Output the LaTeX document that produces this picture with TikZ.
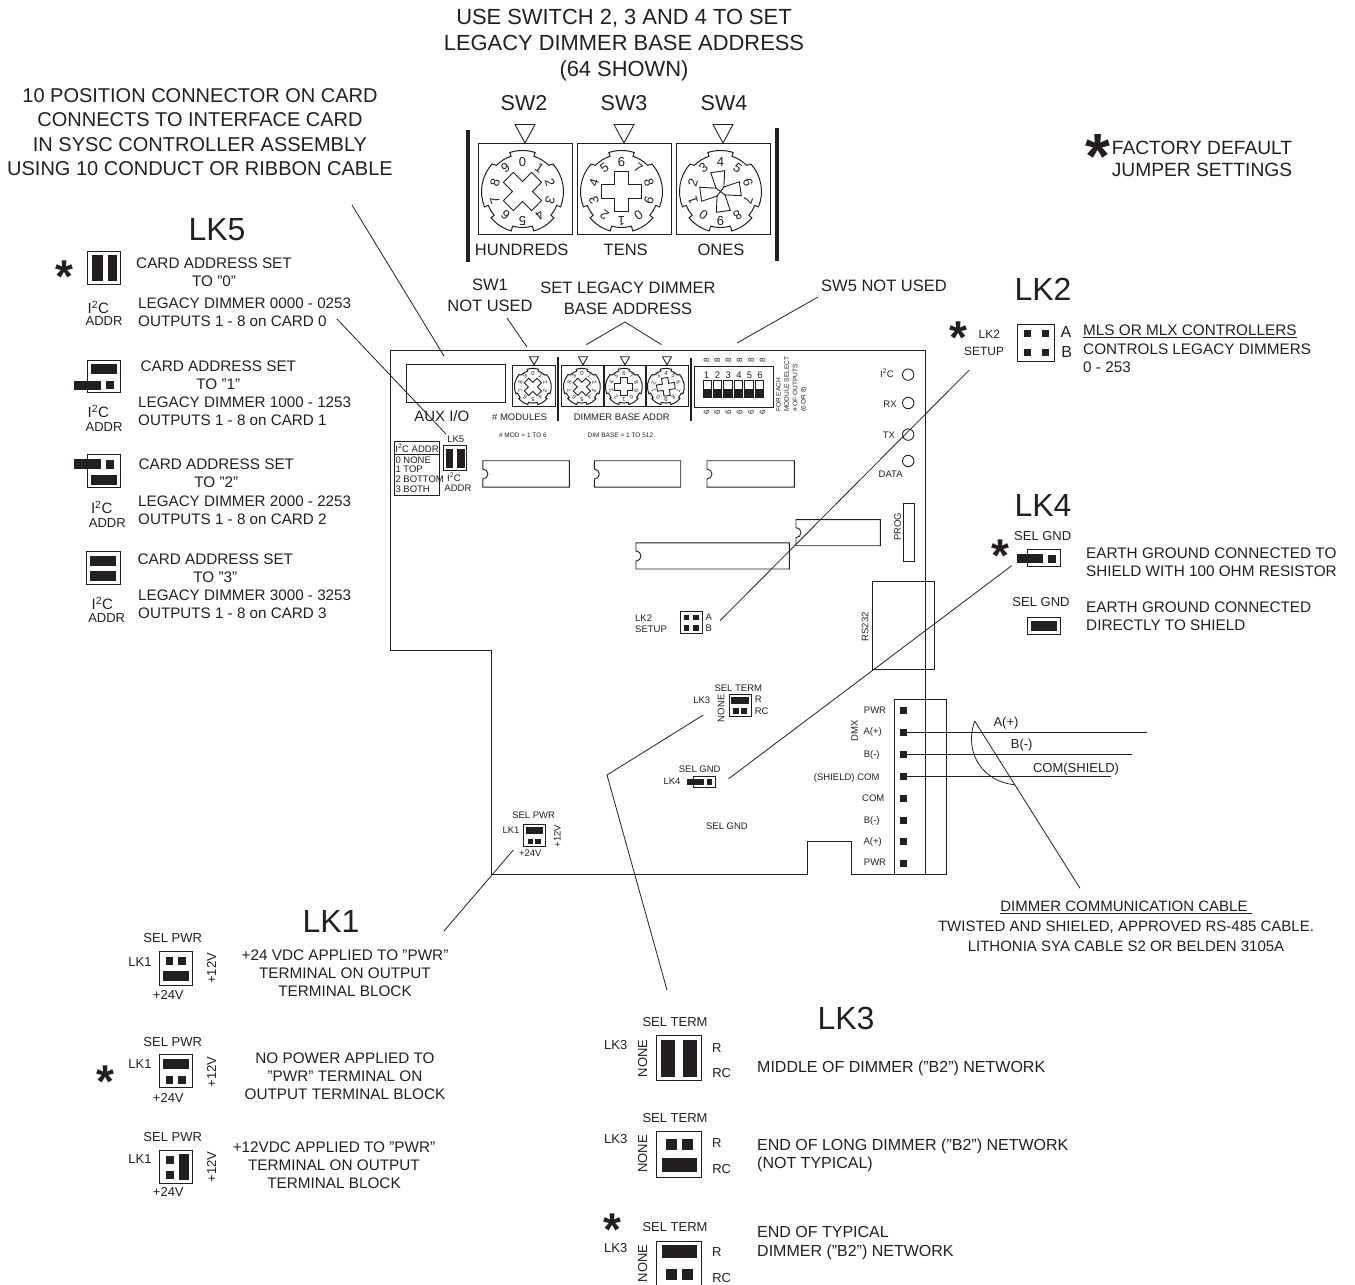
\documentclass[tikz,border=0pt]{standalone}
\usepackage{fontspec}
\setmainfont{Liberation Sans}
\definecolor{ink}{HTML}{231F20}

\begin{document}
\begin{tikzpicture}[x=1pt,y=-1pt,color=ink]
\tikzset{
biglabel/.style={inner sep=0pt, font=\fontsize{32}{32}\selectfont},
swlabel/.style={inner sep=0pt, font=\fontsize{21.5}{22}\selectfont},
headlabel/.style={inner sep=0pt, align=center, font=\fontsize{21.9}{26}\selectfont},
connlabel/.style={inner sep=0pt, align=center, font=\fontsize{20}{24.4}\selectfont},
unitlabel/.style={inner sep=0pt, font=\fontsize{16.5}{17}\selectfont},
toplabel/.style={inner sep=0pt, align=center, font=\fontsize{16.5}{21}\selectfont},
midlabel/.style={inner sep=0pt, align=center, font=\fontsize{15.3}{17.7}\selectfont},
midleft/.style={inner sep=0pt, align=left, anchor=west, font=\fontsize{15.2}{18.2}\selectfont},
textlabel/.style={inner sep=0pt, align=center, font=\fontsize{15.3}{18}\selectfont},
textleft/.style={inner sep=0pt, align=left, anchor=west, font=\fontsize{15.3}{18.4}\selectfont},
termleft/.style={inner sep=0pt, align=left, anchor=west, font=\fontsize{16}{18.6}\selectfont},
keylabel/.style={inner sep=0pt, font=\fontsize{13}{13}\selectfont},
iclabel/.style={inner sep=0pt, font=\fontsize{15}{15}\selectfont},
smalllabel/.style={inner sep=0pt, font=\fontsize{9.5}{11}\selectfont},
tinylabel/.style={inner sep=0pt, align=left, font=\fontsize{6.5}{8.4}\selectfont},
dimlabel/.style={inner sep=0pt, font=\fontsize{8}{8}\selectfont},
stardefault/.style={inner sep=0pt, anchor=base, font=\fontsize{46}{46}\selectfont\bfseries},
digit/.style={inner sep=0pt, transform shape, font=\fontsize{13}{13}\selectfont},
jbox/.style={draw, line width=.9pt},
jbar/.style={fill=ink},
thinline/.style={draw, line width=.8pt},
pad/.style={fill=ink, minimum size=7pt, inner sep=0pt},
pics/rotary/.style args={#1/#2/#3}{code={
  \draw[jbox] (-47pt,-45.5pt) rectangle (47pt,45.5pt);
  \draw[jbox] (-10pt,64pt) -- (10pt,64pt) -- (0pt,45.5pt) -- cycle;
  \begin{scope}[shift={(-2.5pt,-3pt)}]
    \draw[line width=1pt] (108:41pt) arc[start angle=108,end angle=72,radius=41pt] -- (72:37pt)
      arc[start angle=72,end angle=45,radius=37pt] -- (42:41pt)
      arc[start angle=42,end angle=-22,radius=41pt] -- (-22:37pt)
      arc[start angle=-22,end angle=-40,radius=37pt] -- (-40:41pt)
      arc[start angle=-40,end angle=-74,radius=41pt] -- (-74:36pt)
      arc[start angle=-74,end angle=-106,radius=36pt] -- (-106:41pt)
      arc[start angle=-106,end angle=-140,radius=41pt] -- (-140:37pt)
      arc[start angle=-140,end angle=-158,radius=37pt] -- (-158:41pt)
      arc[start angle=-158,end angle=-222,radius=41pt] -- (135:37pt)
      arc[start angle=135,end angle=108,radius=37pt] -- cycle;
    \foreach \k in {0,...,9} {
      \pgfmathtruncatemacro\d{mod(#1+\k,10)}
      \node[digit, rotate=-36*\k] (d\k) at (90-36*\k:29pt) {\d};
    }
    \begin{scope}[rotate=#2]
      \draw[jbox, fill=white] (7pt,20pt) -- (-7pt,20pt) -- (-#3pt,#3pt) -- (-20pt,7pt) -- (-20pt,-7pt)
        -- (-#3pt,-#3pt) -- (-7pt,-20pt) -- (7pt,-20pt) -- (#3pt,-#3pt) -- (20pt,-7pt) -- (20pt,7pt)
        -- (#3pt,#3pt) -- cycle;
      \ifdim#3pt<5pt
        \draw[jbox] (-#3pt,#3pt) -- (#3pt,-#3pt) (#3pt,#3pt) -- (-#3pt,-#3pt);
      \fi
    \end{scope}
  \end{scope}
}},
pics/dipsw/.style={code={
  \draw[jbox, line width=.6pt] (-4.2pt,-8.5pt) rectangle (4.2pt,8.5pt);
  \fill[jbar] (-4.2pt,0pt) rectangle (4.2pt,-8.5pt);
}},
}
\useasboundingbox (0,0) rectangle (1355,1285);

% texts at the top
\node[headlabel] (title) at (624,45) {USE SWITCH 2, 3 AND 4 TO SET\\LEGACY DIMMER BASE ADDRESS\\(64 SHOWN)};
\node[swlabel] (swtwo) at (524,103) {SW2};
\node[swlabel] (swthree) at (624,103) {SW3};
\node[swlabel] (swfour) at (724,103) {SW4};
\node[connlabel] (conntext) at (200,132) {10 POSITION CONNECTOR ON CARD\\CONNECTS TO INTERFACE CARD\\IN SYSC CONTROLLER ASSEMBLY\\USING 10 CONDUCT OR RIBBON CABLE};
\node[stardefault, font=\fontsize{64}{64}\selectfont\bfseries] (stardef) at (1098,178) {*};
\node[connlabel, font=\fontsize{19.2}{22}\selectfont] (defaulttext) at (1202,159) {FACTORY DEFAULT\\JUMPER SETTINGS};

% big switches
\pic (rottwo) at (525,188.5) {rotary=0/45/7};
\pic (rotthree) at (624,188.5) {rotary=6/0/7};
\pic (rotfour) at (723,188.5) {rotary=4/8/4};
\fill[jbar] (466,130) rectangle (470,262);
\fill[jbar] (775,128) rectangle (779,261);
\node[unitlabel] (hundreds) at (521.7,250) {HUNDREDS};
\node[unitlabel] (tens) at (625.7,250) {TENS};
\node[unitlabel] (ones) at (721,250) {ONES};

% LK5
\node[biglabel] (lkfive) at (217,230) {LK5};
\node[stardefault] (starfive) at (64,292) {*};
\draw[jbox] (87.3,251.7) rectangle (120.7,284);
\fill[jbar] (91.7,255) rectangle (103.3,280.7);
\fill[jbar] (108.3,255) rectangle (117.3,280.7);
\node[iclabel] (iczero) at (98.3,307.7) {I\textsuperscript{2}C};
\node[keylabel] (addrzero) at (104,321) {ADDR};
\node[midlabel] (cardzero) at (214,272.5) {CARD ADDRESS SET\\TO "0"};
\node[midleft] (dimzero) at (138,312) {LEGACY DIMMER 0000 - 0253\\OUTPUTS 1 - 8 on CARD 0};
\draw[jbox] (87.3,360) rectangle (120.7,392.7);
\fill[jbar] (90.7,364) rectangle (117.3,374.3);
\fill[jbar] (74,380.7) rectangle (100.7,390);
\fill[jbar] (106,380.7) rectangle (114,389);
\node[iclabel] (icone) at (98.3,411.7) {I\textsuperscript{2}C};
\node[keylabel] (addrone) at (104,426.7) {ADDR};
\node[midlabel] (cardone) at (218.3,375.3) {CARD ADDRESS SET\\TO "1"};
\node[midleft] (dimone) at (138,411) {LEGACY DIMMER 1000 - 1253\\OUTPUTS 1 - 8 on CARD 1};
\draw[jbox] (87.3,454.3) rectangle (120.7,487.3);
\fill[jbar] (74,459.3) rectangle (100.7,469.3);
\fill[jbar] (106,460) rectangle (114,469);
\fill[jbar] (90.7,475) rectangle (117.3,485);
\node[iclabel] (ictwo) at (101.7,507.3) {I\textsuperscript{2}C};
\node[keylabel] (addrtwo) at (107.3,523.3) {ADDR};
\node[midlabel] (cardtwo) at (216.3,473) {CARD ADDRESS SET\\TO "2"};
\node[midleft] (dimtwo) at (138,510.5) {LEGACY DIMMER 2000 - 2253\\OUTPUTS 1 - 8 on CARD 2};
\draw[jbox] (86.7,551.7) rectangle (120,584);
\fill[jbar] (90,555.7) rectangle (116,565.7);
\fill[jbar] (90,570.7) rectangle (116,580.7);
\node[iclabel] (icthree) at (102.3,603.3) {I\textsuperscript{2}C};
\node[keylabel] (addrthree) at (106.7,618.3) {ADDR};
\node[midlabel] (cardthree) at (215.3,568.5) {CARD ADDRESS SET\\TO "3"};
\node[midleft] (dimthree) at (138,604) {LEGACY DIMMER 3000 - 3253\\OUTPUTS 1 - 8 on CARD 3};

% labels over the board
\node[toplabel] (swone) at (490,295) {SW1\\NOT USED};
\node[toplabel] (setlegacy) at (628,298) {SET LEGACY DIMMER\\BASE ADDRESS};
\node[toplabel] (swfive) at (884,286) {SW5 NOT USED};

% board
\draw[thinline] (925.7,874.3) -- (925.7,350.7) -- (390.7,350.7) -- (390.7,650.7) -- (491.7,650.7) -- (491.7,874.3) -- (807.7,874.3) -- (807.7,841.7) -- (851.3,841.7) -- (851.3,874.3) -- (894.3,874.3);
\draw[jbox] (406.8,364.3) rectangle (505.7,402.5);
\node[midlabel, font=\fontsize{15}{17}\selectfont] (auxio) at (441.8,415.7) {AUX I/O};
\pic[scale=.45] (rotmod) at (534,385.5) {rotary=0/45/7};
\pic[scale=.45] (rotbasea) at (583,385.5) {rotary=0/45/7};
\pic[scale=.45] (rotbaseb) at (625,385.5) {rotary=6/0/7};
\pic[scale=.45] (rotbasec) at (667,385.5) {rotary=4/8/7};
\fill[jbar] (557,357) rectangle (559,421);
\fill[jbar] (689.7,358) rectangle (691.7,421);
\node[smalllabel] (modules) at (519.6,416.8) {\# MODULES};
\node[smalllabel] (baseaddr) at (621.8,417.5) {DIMMER BASE ADDR};
\node[tinylabel] (modrange) at (522.9,435.7) {\# MOD = 1 TO 6};
\node[tinylabel] (baserange) at (620.4,435.7) {DIM BASE = 1 TO 512};
\node[smalllabel] (boardlkfive) at (455.7,439.3) {LK5};
\draw[jbox] (394.3,441.8) rectangle (439.6,495.7);
\draw[jbox] (394.3,454) -- (439.6,454);
\node[smalllabel] (icaddr) at (417,448) {I\textsuperscript{2}C ADDR};
\node[smalllabel, anchor=west] (addrnone) at (395.3,459.8) {0 NONE};
\node[smalllabel, anchor=west] (addrtop) at (395.3,469.3) {1 TOP};
\node[smalllabel, anchor=west] (addrbottom) at (395.3,479.3) {2 BOTTOM};
\node[smalllabel, anchor=west] (addrboth) at (395.3,489.3) {3 BOTH};
\draw[jbox] (443.6,445.7) rectangle (466.4,470);
\fill[jbar] (446,448.6) rectangle (453,467.9);
\fill[jbar] (457,448.6) rectangle (464.6,467.9);
\node[smalllabel] (boardic) at (454,477.5) {I\textsuperscript{2}C};
\node[smalllabel] (boardaddr) at (457.9,487.9) {ADDR};

% chips
\draw[jbox] (482.9,460.7) -- (569.3,460.7) -- (569.3,487.1) -- (482.9,487.1) -- (482.9,479) arc[start angle=-90,end angle=90,radius=5pt] -- cycle;
\draw[jbox] (594.3,460.7) -- (680.7,460.7) -- (680.7,487.1) -- (594.3,487.1) -- (594.3,479) arc[start angle=-90,end angle=90,radius=5pt] -- cycle;
\draw[jbox] (707,460.7) -- (794.3,460.7) -- (794.3,487.1) -- (707,487.1) -- (707,479) arc[start angle=-90,end angle=90,radius=5pt] -- cycle;
\draw[jbox] (796,519.6) -- (880.4,519.6) -- (880.4,545.7) -- (796,545.7) -- (796,537.6) arc[start angle=-90,end angle=90,radius=5pt] -- cycle;
\draw[jbox] (636,542.9) -- (789.3,542.9) -- (789.3,569) -- (636,569) -- (636,561) arc[start angle=-90,end angle=90,radius=5pt] -- cycle;
\draw[jbox] (903,503.6) rectangle (914.6,561.8);
\node[smalllabel, rotate=90] (prog) at (897.5,526.8) {PROG};

% dip switch
\draw[jbox] (694.3,366) rectangle (773.6,407);
\node[smalllabel] (dipone) at (706.4,375) {1};
\node[smalllabel] (diptwo) at (717.5,375) {2};
\node[smalllabel] (dipthree) at (728.2,375) {3};
\node[smalllabel] (dipfour) at (738.9,375) {4};
\node[smalllabel] (dipfive) at (749.6,375) {5};
\node[smalllabel] (dipsix) at (760,375) {6};
\pic at (707.3,389) {dipsw};
\pic at (717.5,389) {dipsw};
\pic at (727.9,389) {dipsw};
\pic at (738.2,389) {dipsw};
\pic at (748.8,389) {dipsw};
\pic at (759.2,389) {dipsw};
\node[dimlabel, rotate=90] (eighta) at (706.7,360.7) {8};
\node[dimlabel, rotate=90] (eightb) at (717.3,360.7) {8};
\node[dimlabel, rotate=90] (eightc) at (728.3,360.7) {8};
\node[dimlabel, rotate=90] (eightd) at (739.7,360.7) {8};
\node[dimlabel, rotate=90] (eighte) at (751,360.7) {8};
\node[dimlabel, rotate=90] (eightf) at (762.7,360.7) {8};
\node[dimlabel, rotate=90] (sixa) at (706.7,412.7) {6};
\node[dimlabel, rotate=90] (sixb) at (717.3,412.7) {6};
\node[dimlabel, rotate=90] (sixc) at (728.3,412.7) {6};
\node[dimlabel, rotate=90] (sixd) at (739.7,412.7) {6};
\node[dimlabel, rotate=90] (sixe) at (751,412.7) {6};
\node[dimlabel, rotate=90] (sixf) at (762.7,412.7) {6};
\node[tinylabel, rotate=90, anchor=west] (outputs) at (791.5,412) {FOR EACH\\MODULE SELECT\\\# OF OUTPUTS\\(6 OR 8)};

% leds
\draw[jbox] (908.2,374.6) circle (5.7pt);
\draw[jbox] (908.2,403) circle (5.7pt);
\draw[jbox] (908.2,434.6) circle (5.7pt);
\draw[jbox] (908.2,461) circle (5.7pt);
\node[smalllabel] (ledic) at (887,373.6) {I\textsuperscript{2}C};
\node[smalllabel] (ledrx) at (890,404) {RX};
\node[smalllabel] (ledtx) at (889,435) {TX};
\node[smalllabel] (leddata) at (890.7,474) {DATA};

% jumpers on the board
\node[smalllabel, align=left, anchor=west] (boardlktwo) at (635,624) {LK2\\SETUP};
\draw[jbox] (680.3,611.3) rectangle (702.3,633.7);
\fill[jbar] (684,615) rectangle (689.3,620);
\fill[jbar] (692.7,615) rectangle (698.7,620);
\fill[jbar] (684,625) rectangle (689.3,631);
\fill[jbar] (692.7,625) rectangle (698.7,631);
\node[smalllabel] (boarda) at (708.7,617.7) {A};
\node[smalllabel] (boardb) at (708.7,628.7) {B};
\node[smalllabel] (boardterm) at (738.3,688.7) {SEL TERM};
\node[smalllabel] (boardlkthree) at (701.7,700.7) {LK3};
\node[smalllabel, rotate=90] (boardnone) at (721,708.3) {NONE};
\draw[jbox] (729.3,694) rectangle (751.3,716.7);
\fill[jbar] (730.7,696.7) rectangle (749.3,704);
\fill[jbar] (733.3,708.3) rectangle (738.7,714);
\fill[jbar] (741,708.3) rectangle (747.3,714);
\node[smalllabel] (boardr) at (758.3,699.3) {R};
\node[smalllabel] (boardrc) at (761.7,711.7) {RC};
\node[smalllabel] (boardgnd) at (699.7,769.7) {SEL GND};
\node[smalllabel] (boardlkfour) at (672,781.7) {LK4};
\draw[jbox] (693.3,776.3) rectangle (715.3,787.3);
\fill[jbar] (686.7,778.7) rectangle (704,785.3);
\fill[jbar] (707,778.7) rectangle (712,785.3);
\node[smalllabel] (lonegnd) at (727,826) {SEL GND};
\node[smalllabel] (boardpwr) at (533.7,815.7) {SEL PWR};
\node[smalllabel] (boardlkone) at (511,830.7) {LK1};
\draw[jbox] (523.3,824.3) rectangle (545.3,846.7);
\fill[jbar] (526,827) rectangle (543.3,834.3);
\fill[jbar] (527.7,838.7) rectangle (533.3,844.3);
\fill[jbar] (535,838.7) rectangle (541,844.3);
\node[smalllabel, rotate=90] (boardtwelve) at (557.3,836) {+12V};
\node[smalllabel] (boardtwofour) at (530.3,852.7) {+24V};

% rs232 and terminal block
\draw[jbox] (872.7,581.3) rectangle (934.3,669.3);
\node[smalllabel, rotate=90] (rsport) at (865,626.7) {RS232};
\draw[jbox] (894.3,699.3) rectangle (946,874.3);
\node[pad] (pada) at (903.7,710.3) {};
\node[pad] (padb) at (903.7,732.3) {};
\node[pad] (padc) at (903.7,754.3) {};
\node[pad] (padd) at (903.7,776.3) {};
\node[pad] (pade) at (903.7,798.3) {};
\node[pad] (padf) at (903.7,820) {};
\node[pad] (padg) at (903.7,841.7) {};
\node[pad] (padh) at (903.7,863.3) {};
\node[smalllabel] (pwra) at (875,710.3) {PWR};
\node[smalllabel] (apos) at (872.7,732) {A(+)};
\node[smalllabel] (bneg) at (871.7,754.7) {B(-)};
\node[smalllabel] (shield) at (846.7,777.7) {(SHIELD) COM};
\node[smalllabel] (coma) at (873.3,798.7) {COM};
\node[smalllabel] (bnegb) at (871.7,820.7) {B(-)};
\node[smalllabel] (aposb) at (872.7,842) {A(+)};
\node[smalllabel] (pwrb) at (875,862.7) {PWR};
\node[smalllabel, rotate=90] (dmx) at (854.7,731) {DMX};

% cable
\coordinate (wireaend) at (1146.7,732.3);
\coordinate (wirebend) at (1131.7,754.3);
\coordinate (wirecend) at (1110.7,776.3);
\coordinate (cabletop) at (974.7,721);
\coordinate (cablearc) at (1014.3,784.7);
\coordinate (cableend) at (1080,888.3);
\draw[thinline] (padb.center) -- (wireaend);
\draw[thinline] (padc.center) -- (wirebend);
\draw[thinline] (padd.center) -- (wirecend);
\draw[thinline] (cabletop) -- (cableend);
\draw[thinline] (cabletop) .. controls (963,755) and (985,782) .. (cablearc);
\node[keylabel] (wirea) at (1006,723.3) {A(+)};
\node[keylabel] (wireb) at (1021.7,745) {B(-)};
\node[keylabel] (wirec) at (1076,769) {COM(SHIELD)};
\node[textlabel, font=\fontsize{15}{20}\selectfont] (cabletext) at (1126,926.5) {\underline{DIMMER COMMUNICATION CABLE\ }\\TWISTED AND SHIELED, APPROVED RS-485 CABLE.\\LITHONIA SYA CABLE S2 OR BELDEN 3105A};

% LK2
\node[biglabel] (lktwo) at (1043,289) {LK2};
\node[stardefault] (startwo) at (958,353) {*};
\node[keylabel, font=\fontsize{12}{12}\selectfont] (lktwoname) at (989.3,334.3) {LK2};
\node[keylabel, font=\fontsize{12}{12}\selectfont] (lktwosetup) at (984,351.7) {SETUP};
\draw[jbox] (1017.3,324) rectangle (1054.3,361.7);
\node[pad] (lktwoa) at (1027.3,333.3) {};
\node[pad] (lktwob) at (1045.7,333.3) {};
\node[pad] (lktwoc) at (1027.3,352.3) {};
\node[pad] (lktwod) at (1045.7,352.3) {};
\node[midlabel, font=\fontsize{16}{16}\selectfont] (lktwopa) at (1066,332.3) {A};
\node[midlabel, font=\fontsize{16}{16}\selectfont] (lktwopb) at (1066.7,352.3) {B};
\node[textleft] (lktwotext) at (1083,349) {\underline{MLS OR MLX CONTROLLERS}\\CONTROLS LEGACY DIMMERS\\0 - 253};

% LK4
\node[biglabel] (lkfour) at (1043,505) {LK4};
\node[stardefault] (starfour) at (1000,571) {*};
\node[keylabel] (gndone) at (1042.7,535.7) {SEL GND};
\draw[jbox] (1027.3,549.3) rectangle (1060,566);
\fill[jbar] (1017.3,554) rectangle (1042.7,563.3);
\fill[jbar] (1048.3,554.7) rectangle (1056,562.7);
\node[keylabel] (gndtwo) at (1041,602.3) {SEL GND};
\draw[jbox] (1027.3,617.7) rectangle (1060,634.3);
\fill[jbar] (1031,621) rectangle (1057,631);
\node[textleft] (gndtextone) at (1086,562) {EARTH GROUND CONNECTED TO\\SHIELD WITH 100 OHM RESISTOR};
\node[textleft] (gndtexttwo) at (1086,616.5) {EARTH GROUND CONNECTED\\DIRECTLY TO SHIELD};

% LK1
\node[biglabel] (lkone) at (331,921) {LK1};
\node[keylabel] (pwrone) at (172.7,938.3) {SEL PWR};
\node[keylabel] (nameone) at (140,961.7) {LK1};
\draw[jbox] (159,951.7) rectangle (192.3,985);
\fill[jbar] (166,956.7) rectangle (173.3,965);
\fill[jbar] (178.3,956.7) rectangle (186,965);
\fill[jbar] (162.7,971) rectangle (189.3,981);
\node[keylabel, rotate=90] (twelveone) at (211.7,968.3) {+12V};
\node[keylabel] (twofourone) at (168.3,995) {+24V};
\node[textlabel] (pwrtextone) at (345,973.5) {+24 VDC APPLIED TO "PWR"\\TERMINAL ON OUTPUT\\TERMINAL BLOCK};
\node[stardefault] (starone) at (105,1097) {*};
\node[keylabel] (pwrtwo) at (172.7,1041.7) {SEL PWR};
\node[keylabel] (nametwo) at (140,1064) {LK1};
\draw[jbox] (159,1054.7) rectangle (192.3,1087.7);
\fill[jbar] (162.7,1059.3) rectangle (189.3,1069.3);
\fill[jbar] (166,1075.7) rectangle (173.3,1084);
\fill[jbar] (178.3,1075.7) rectangle (186,1084);
\node[keylabel, rotate=90] (twelvetwo) at (211.7,1071.7) {+12V};
\node[keylabel] (twofourtwo) at (168.3,1097.7) {+24V};
\node[textlabel] (pwrtexttwo) at (345,1076.5) {NO POWER APPLIED TO\\"PWR" TERMINAL ON\\OUTPUT TERMINAL BLOCK};
\node[keylabel] (pwrthree) at (172.7,1137.3) {SEL PWR};
\node[keylabel] (namethree) at (140,1159.3) {LK1};
\draw[jbox] (159,1150) rectangle (192.3,1183.3);
\fill[jbar] (166,1155.7) rectangle (174,1164.3);
\fill[jbar] (166,1170.7) rectangle (174,1179);
\fill[jbar] (179,1154) rectangle (189.3,1180);
\node[keylabel, rotate=90] (twelvethree) at (211.7,1166.7) {+12V};
\node[keylabel] (twofourthree) at (168.3,1191.7) {+24V};
\node[textlabel] (pwrtextthree) at (334,1165) {+12VDC APPLIED TO "PWR"\\TERMINAL ON OUTPUT\\TERMINAL BLOCK};

% LK3
\node[biglabel] (lkthree) at (846,1018) {LK3};
\node[keylabel] (termone) at (675,1022.3) {SEL TERM};
\node[keylabel] (lkthreeone) at (615.7,1045) {LK3};
\node[keylabel, rotate=90] (noneone) at (642.7,1058.3) {NONE};
\draw[jbox] (656,1035.7) rectangle (701.7,1080.7);
\fill[jbar] (661,1040) rectangle (675,1076.7);
\fill[jbar] (683.3,1040) rectangle (697.3,1076.7);
\node[keylabel] (rone) at (716.7,1047.7) {R};
\node[keylabel] (rcone) at (721.7,1072.7) {RC};
\node[termleft] (termtextone) at (757,1068) {MIDDLE OF DIMMER ("B2") NETWORK};
\node[keylabel] (termtwo) at (675,1117.7) {SEL TERM};
\node[keylabel] (lkthreetwo) at (615.7,1139) {LK3};
\node[keylabel, rotate=90] (nonetwo) at (642.7,1154) {NONE};
\draw[jbox] (656,1131.7) rectangle (701.7,1177.3);
\fill[jbar] (666,1139.3) rectangle (677.3,1150);
\fill[jbar] (681.7,1139.3) rectangle (693.3,1150);
\fill[jbar] (661.7,1158.3) rectangle (697.3,1172.3);
\node[keylabel] (rtwo) at (716.7,1143.3) {R};
\node[keylabel] (rctwo) at (721.7,1169.3) {RC};
\node[termleft] (termtexttwo) at (757,1155.5) {END OF LONG DIMMER ("B2") NETWORK\\(NOT TYPICAL)};
\node[stardefault] (starthree) at (612,1245) {*};
\node[keylabel] (termthree) at (675,1227.3) {SEL TERM};
\node[keylabel] (lkthreethree) at (615.7,1248.3) {LK3};
\node[keylabel, rotate=90] (nonethree) at (642.7,1263.3) {NONE};
\draw[jbox] (656,1241) rectangle (701.7,1288);
\fill[jbar] (661.7,1245) rectangle (697.3,1258.3);
\fill[jbar] (666,1269.3) rectangle (677.3,1280);
\fill[jbar] (681.7,1269.3) rectangle (693.3,1280);
\node[keylabel] (rthree) at (716.7,1252.3) {R};
\node[keylabel] (rcthree) at (721.7,1277.7) {RC};
\node[termleft] (termtextthree) at (757,1243) {END OF TYPICAL\\DIMMER ("B2") NETWORK};

% leader lines
\coordinate (leadconn) at (352,205);
\coordinate (leadaux) at (444,356);
\coordinate (leadsw) at (507,318);
\coordinate (leadmod) at (527,347);
\coordinate (leadset) at (625,322);
\coordinate (leadbasea) at (586.4,344.6);
\coordinate (leadbaseb) at (661.4,344.6);
\coordinate (leadfive) at (818,297);
\coordinate (leaddip) at (737,343);
\coordinate (leadcard) at (337,319);
\coordinate (leadlkfive) at (446,434);
\coordinate (leadlktwo) at (969.3,370);
\coordinate (leadboardtwo) at (720,620.7);
\coordinate (leadlkfour) at (1011.7,565.7);
\coordinate (leadboardfour) at (728.7,778.7);
\coordinate (leadboardthree) at (703.3,715);
\coordinate (leadknee) at (607,775);
\coordinate (leadlkthree) at (667,990);
\coordinate (leadboardone) at (513.3,850);
\coordinate (leadlkone) at (444,931);
\draw[thinline] (leadconn) -- (leadaux);
\draw[thinline] (leadsw) -- (leadmod);
\draw[thinline] (leadbasea) -- (leadset) -- (leadbaseb);
\draw[thinline] (leadfive) -- (leaddip);
\draw[thinline] (leadcard) -- (leadlkfive);
\draw[thinline] (leadlktwo) -- (leadboardtwo);
\draw[thinline] (leadlkfour) -- (leadboardfour);
\draw[thinline] (leadboardthree) -- (leadknee) -- (leadlkthree);
\draw[thinline] (leadboardone) -- (leadlkone);
\end{tikzpicture}
\end{document}
